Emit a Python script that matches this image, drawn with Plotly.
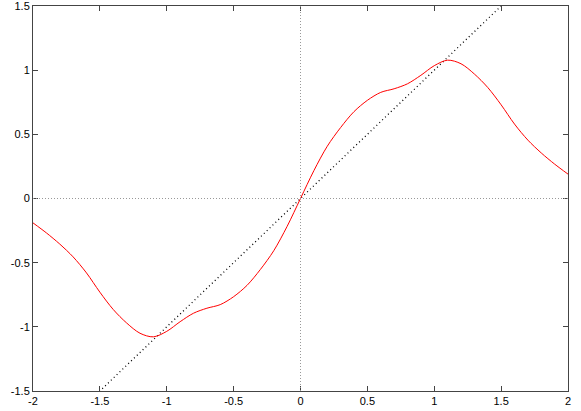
import plotly.graph_objects as go

# red curve
curve_x = [-2.0, -1.9, -1.8, -1.7, -1.6, -1.5, -1.4, -1.3, -1.2, -1.1, -1.0,
           -0.9, -0.8, -0.7, -0.6, -0.5, -0.4, -0.3, -0.2, -0.1, 0.0,
           0.1, 0.2, 0.3, 0.4, 0.5, 0.6, 0.7, 0.8, 0.9, 1.0,
           1.1, 1.2, 1.3, 1.4, 1.5, 1.6, 1.7, 1.8, 1.9, 2.0]
curve_y = [-0.19, -0.268, -0.355, -0.455, -0.58, -0.73, -0.865, -0.97, -1.05, -1.078, -1.035,
           -0.96, -0.894, -0.855, -0.827, -0.765, -0.677, -0.553, -0.407, -0.217, 0.0,
           0.217, 0.407, 0.553, 0.677, 0.765, 0.827, 0.855, 0.894, 0.96, 1.035,
           1.078, 1.05, 0.97, 0.865, 0.73, 0.58, 0.455, 0.355, 0.268, 0.19]

# identity reference line y = x
diag_x = [-2, 2]
diag_y = [-2, 2]

x_ticks = [-2, -1.5, -1, -0.5, 0, 0.5, 1, 1.5, 2]
y_ticks = [-1.5, -1, -0.5, 0, 0.5, 1, 1.5]

fig = go.Figure()

# zero axes, gnuplot style
fig.add_hline(y=0, line=dict(color="#999999", width=1, dash="1px,2px"))
fig.add_vline(x=0, line=dict(color="#999999", width=1, dash="1px,2px"))

fig.add_trace(go.Scatter(x=diag_x, y=diag_y, mode="lines",
                         line=dict(color="black", width=1.3, dash="1px,3px"),
                         hoverinfo="skip"))
fig.add_trace(go.Scatter(x=curve_x, y=curve_y, mode="lines",
                         line=dict(color="#ff0000", width=1, shape="spline", smoothing=0.9)))

axis_style = dict(showgrid=False, zeroline=False, showline=True, linecolor="#444444",
                  linewidth=1, mirror="ticks", ticks="inside", ticklen=5,
                  tickcolor="#444444", automargin=False, ticklabeloverflow="allow",
                  tickfont=dict(family="Liberation Sans, Arial", size=11, color="black"))

fig.update_xaxes(range=[-2, 2], tickvals=x_ticks,
                 ticktext=[f"{v:g}" for v in x_ticks], **axis_style)
fig.update_yaxes(range=[-1.5, 1.5], tickvals=y_ticks,
                 ticktext=[f"{v:g}" for v in y_ticks], **axis_style)

fig.update_layout(width=581, height=411, showlegend=False,
                  plot_bgcolor="white", paper_bgcolor="white",
                  margin=dict(l=33, r=13, t=6, b=20))

# drop the default page margin so the figure sits at the window's corner
fig.write_html("out.html", config={"displayModeBar": False},
               post_script="document.body.style.margin='0';document.body.style.overflow='hidden';")
